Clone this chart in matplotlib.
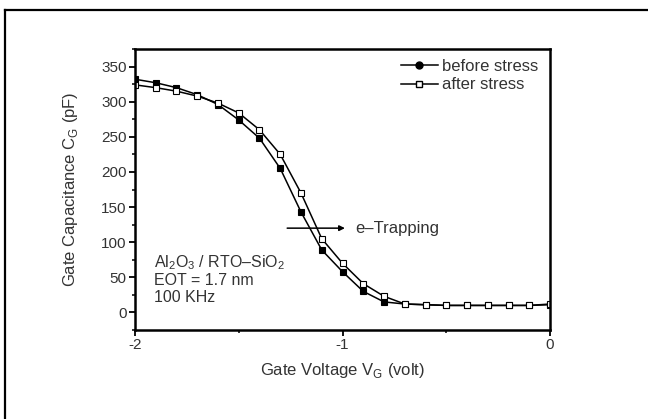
import matplotlib
matplotlib.use("Agg")
from matplotlib import pyplot as plt
from matplotlib.lines import Line2D
from matplotlib.ticker import MultipleLocator

plt.rcParams['font.family'] = ['Liberation Sans', 'DejaVu Sans']
plt.rcParams['mathtext.fontset'] = 'custom'
plt.rcParams['mathtext.rm'] = 'Liberation Sans'

# gate voltage (volt), one point every 0.1 V
volts = [-2.0, -1.9, -1.8, -1.7, -1.6, -1.5, -1.4, -1.3, -1.2, -1.1, -1.0,
         -0.9, -0.8, -0.7, -0.6, -0.5, -0.4, -0.3, -0.2, -0.1, 0.0]

# gate capacitance (pF)
before = [332, 327, 320, 310, 296, 274, 248, 205, 143, 89, 58,
          30, 15, 12, 11, 10, 10, 10, 10, 10, 11]
after = [324, 320, 315, 308, 298, 284, 260, 225, 170, 105, 70,
         41, 23, 12, 11, 10, 10, 10, 10, 10, 12]

txt = '#333333'

fig = plt.figure(figsize=(6.48, 4.19), dpi=100)
ax = fig.add_axes([0.2083, 0.2124, 0.6405, 0.6706])

# frame around the whole picture (left and top edges show)
fig.add_artist(Line2D([0.008, 0.008], [0.0, 0.976], color='black', lw=1.6))
fig.add_artist(Line2D([0.008, 1.0], [0.976, 0.976], color='black', lw=1.6))

ax.plot(volts, before, '-', color='black', lw=1.1, marker='s', ms=4.5,
        mfc='black', mec='black', mew=0.8, label='before stress')
ax.plot(volts, after, '-', color='black', lw=1.1, marker='s', ms=4.5,
        mfc='white', mec='black', mew=0.8, label='after stress')

ax.set_xlim(-2, 0)
ax.set_ylim(-25, 375)
ax.xaxis.set_major_locator(MultipleLocator(1))
ax.xaxis.set_minor_locator(MultipleLocator(0.5))
ax.yaxis.set_major_locator(MultipleLocator(50))
ax.yaxis.set_minor_locator(MultipleLocator(25))
ax.xaxis.set_major_formatter(plt.FuncFormatter(lambda v, p: '%d' % v))

for side in ax.spines.values():
    side.set_linewidth(1.8)
ax.tick_params(which='major', direction='out', length=4, width=1.3,
               labelsize=11, labelcolor=txt, pad=2)
ax.tick_params(which='minor', direction='out', length=2.5, width=1.1)

ax.set_xlabel(r'Gate Voltage V$_\mathrm{G}$ (volt)', fontsize=12, color=txt, labelpad=6)
ax.set_ylabel(r'Gate Capacitance C$_\mathrm{G}$ (pF)', fontsize=12, color=txt, labelpad=15)

leg_handles = [
    Line2D([], [], color='black', lw=1.1, marker='o', ms=5, mfc='black', mec='black'),
    Line2D([], [], color='black', lw=1.1, marker='s', ms=4.5, mfc='white', mec='black'),
]
ax.legend(leg_handles, ['before stress', 'after stress'], loc='upper right',
          bbox_to_anchor=(0.995, 1.0), frameon=False, fontsize=12,
          handlelength=2.2, handletextpad=0.25, labelspacing=0.2,
          borderaxespad=0.2, labelcolor=txt)

ax.annotate('', xy=(-0.975, 120), xytext=(-1.28, 120),
            arrowprops=dict(arrowstyle='-|>', color='black', lw=1.1,
                            mutation_scale=8))
ax.text(-0.94, 120, 'e–Trapping', fontsize=12, color=txt, va='center')

ax.text(-1.91, 71, r'Al$_\mathrm{2}$O$_\mathrm{3}$ / RTO–SiO$_\mathrm{2}$',
        fontsize=11.5, color=txt, va='center')
ax.text(-1.91, 45, 'EOT = 1.7 nm', fontsize=11.5, color=txt, va='center')
ax.text(-1.91, 21, '100 KHz', fontsize=11.5, color=txt, va='center')

fig.savefig('out.png', dpi=100)
